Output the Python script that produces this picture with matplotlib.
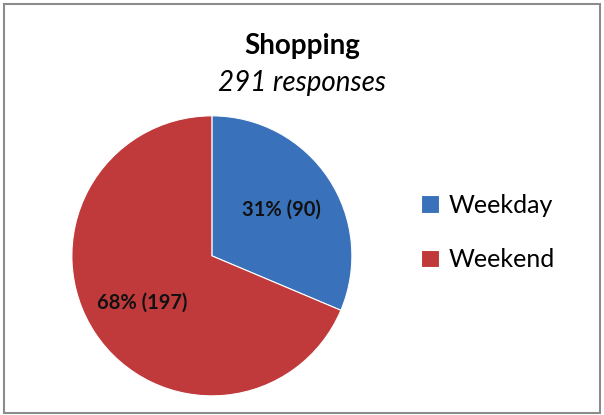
import matplotlib.pyplot as plt
import matplotlib.patches as mpatches

# data
categories = ["Weekday", "Weekend"]
counts = [90, 197]
total_responses = 291
colors = ["#3a71bb", "#c0393b"]

plt.rcParams['font.family'] = ['Lato', 'DejaVu Sans']

fig = plt.figure(figsize=(6.04, 4.15), dpi=100)

# outer frame
fig.patches.append(mpatches.Rectangle((0.006, 0.006), 0.988, 0.985, transform=fig.transFigure,
                                      fill=False, edgecolor="#8c8c8c", linewidth=1.5))

ax = fig.add_axes([0.119, 0.046, 0.4636, 0.675])


def fmt(pct):
    n = round(pct * sum(counts) / 100)
    return f"{round(100 * n / total_responses)}% ({n})"


wedges, texts, autotexts = ax.pie(counts, colors=colors, startangle=90, counterclock=False,
                                  autopct=fmt, pctdistance=0.6,
                                  wedgeprops=dict(linewidth=0.8, edgecolor="#ffffff"),
                                  textprops=dict(fontsize=14.5, fontweight="bold", color="#111111"))
ax.set_xlim(-1, 1)
ax.set_ylim(-1, 1)
ax.set_aspect("equal")

fig.text(0.5, 0.89, "Shopping", ha="center", va="center", fontsize=20, fontweight="bold")
fig.text(0.5, 0.80, f"{total_responses} responses", ha="center", va="center",
         fontsize=20, fontstyle="italic")

fig.legend(wedges, categories, loc="center left", bbox_to_anchor=(0.66, 0.44),
           frameon=False, fontsize=18, handlelength=0.7, handleheight=0.7,
           handletextpad=0.4, labelspacing=1.25)

fig.savefig("out.png", dpi=100)
